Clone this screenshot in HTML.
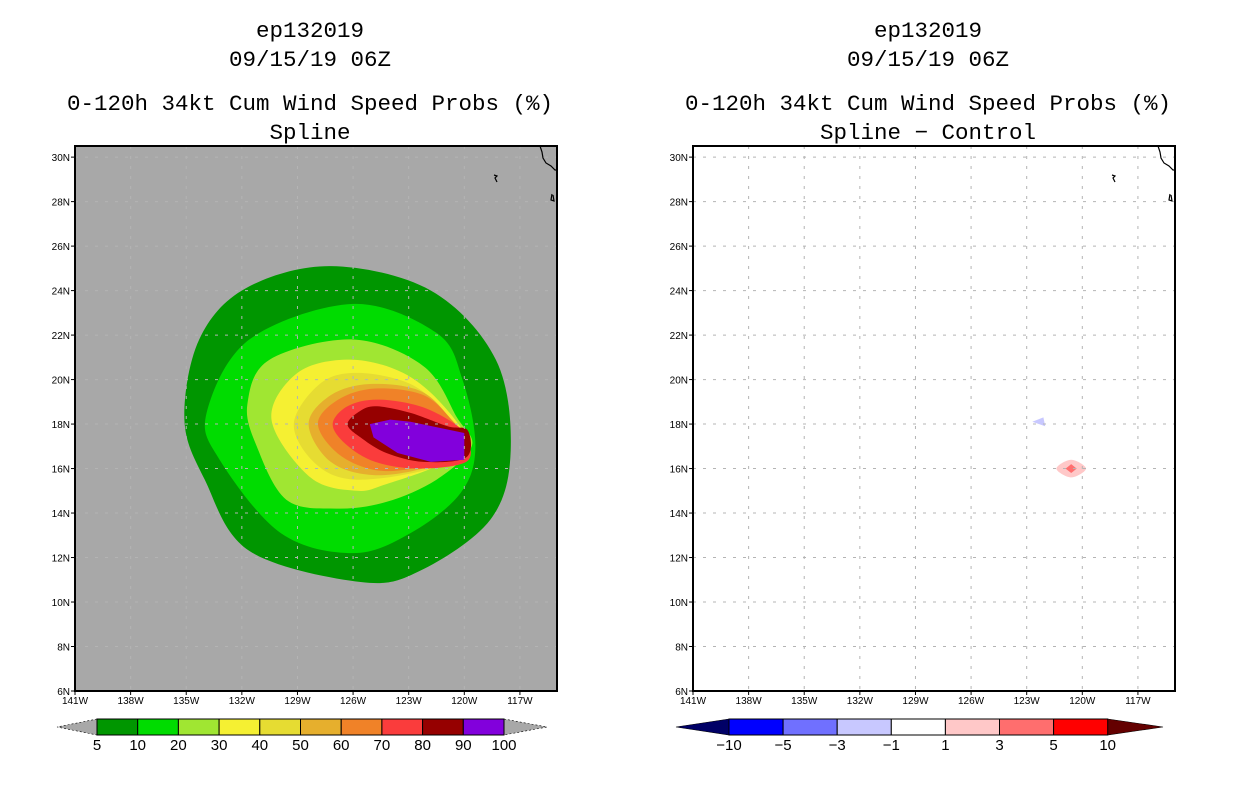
<!DOCTYPE html>
<html><head><meta charset="utf-8">
<style>
html,body{margin:0;padding:0;background:#fff;}
svg{display:block;}
.t{font-family:"Liberation Mono","DejaVu Sans Mono",monospace;font-size:22.5px;fill:#000;text-anchor:middle;}
.tk{font-family:"Liberation Sans",sans-serif;font-size:10px;fill:#000;}
.cb{font-family:"Liberation Sans",sans-serif;font-size:15px;fill:#000;text-anchor:middle;}
</style></head>
<body>
<svg id="chart" width="1236" height="800" viewBox="0 0 1236 800" xmlns="http://www.w3.org/2000/svg">
<rect width="1236" height="800" fill="#fff"/>
<g>
<text class="t" x="310" y="37">ep132019</text>
<text class="t" x="310" y="66">09/15/19 06Z</text>
<text class="t" x="310" y="110">0-120h 34kt Cum Wind Speed Probs (%)</text>
<text class="t" x="310" y="139">Spline</text>
</g>
<g>
<text class="t" x="928" y="37">ep132019</text>
<text class="t" x="928" y="66">09/15/19 06Z</text>
<text class="t" x="928" y="110">0-120h 34kt Cum Wind Speed Probs (%)</text>
<text class="t" x="928" y="139">Spline − Control</text>
</g>
</svg>
<script>
// ---- data ----
const lonTicks = [-141,-138,-135,-132,-129,-126,-123,-120,-117];
const latTicks = [6,8,10,12,14,16,18,20,22,24,26,28,30];
const probLevels = [5,10,20,30,40,50,60,70,80,90,100];
const probColors = ["#009600","#00dc00","#a0e632","#f5f032","#e6dc32","#e6af2d","#f08228","#fa3c3c","#960000","#8200dc"];
const diffLevels = [-10,-5,-3,-1,1,3,5,10];
const diffColors = ["#000066","#0000ff","#7070ff","#c8c8ff","#ffffff","#ffc8c8","#ff6e6e","#ff0000","#640000"];
const c5 = [[-135.1,18.2],[-134.3,21.8],[-131.8,24.1],[-127.2,25.1],[-121.8,24.0],[-118.3,20.9],[-117.5,16.8],[-118.6,13.7],[-122.4,11.4],[-125.6,10.9],[-131.6,12.3],[-134.0,15.5]];
const c10 = [[-133.9,18.5],[-131.6,21.8],[-126.0,23.4],[-121.5,22.1],[-120.1,20.0],[-119.4,17.0],[-120.2,14.9],[-122.9,13.1],[-126.0,12.2],[-129.9,13.1],[-133.2,16.4]];
const c20 = [[-131.7,18.9],[-130.5,20.9],[-126.0,21.8],[-122.2,20.6],[-120.4,18.3],[-119.6,17.0],[-121.5,15.5],[-124.2,14.5],[-126.9,14.2],[-129.6,14.6],[-131.2,17.0]];
const c30 = [[-130.4,18.2],[-129.0,20.3],[-126.2,20.9],[-123.3,20.3],[-121.1,18.8],[-119.8,17.0],[-121.5,16.1],[-124.2,15.3],[-125.8,15.0],[-128.3,15.6]];
const c40 = [[-129.2,18.0],[-127.8,19.8],[-125.8,20.3],[-122.9,19.8],[-120.9,18.4],[-119.8,17.0],[-121.8,16.0],[-125.8,15.5],[-128.0,16.2]];
const c50 = [[-128.4,18.0],[-127.2,19.3],[-125.1,19.8],[-122.4,19.5],[-120.8,18.3],[-119.8,17.0],[-121.8,16.1],[-124.8,15.7],[-127.2,16.3]];
const c60 = [[-127.9,18.0],[-126.8,19.1],[-124.8,19.6],[-122.2,19.3],[-120.6,18.1],[-119.8,17.0],[-121.8,16.2],[-124.5,15.9],[-126.7,16.6]];
const c70 = [[-127.1,18.0],[-126.3,18.8],[-124.7,19.1],[-122.4,18.8],[-120.5,18.0],[-119.8,17.3],[-119.9,16.3],[-122.4,16.0],[-124.8,16.3],[-126.4,17.1]];
const c80 = [[-126.3,18.0],[-125.6,18.6],[-124.7,18.8],[-122.9,18.5],[-120.9,17.9],[-119.8,17.7],[-119.9,16.5],[-122.2,16.3],[-124.2,16.7],[-125.6,17.4]];
const c90 = [[-125.1,18.0],[-124.0,18.2],[-122.9,18.1],[-120.0,17.6],[-120.0,16.4],[-121.8,16.3],[-123.6,16.7],[-124.9,17.4]];
const diffNeg = [[-122.7,18.1],[-122.1,18.3],[-122.0,17.9]];
const diffPos1 = [[-121.4,16.0],[-120.6,16.4],[-119.8,16.0],[-120.6,15.6]];
const diffPos3 = [[-120.9,16.0],[-120.6,16.2],[-120.3,16.0],[-120.6,15.8]];
// ---- scales ----
const LON0=-141, LON1=-115.0, LAT0=6, LAT1=30.5;
const panels=[{x0:75,x1:557,y0:146,y1:691,fill:"#a8a8a8",name:"left"},{x0:693,x1:1175,y0:146,y1:691,fill:"#ffffff",name:"right"}];
function xs(p,lon){return p.x0+(lon-LON0)*(p.x1-p.x0)/(LON1-LON0);}
function ys(p,lat){return p.y1-(lat-LAT0)*(p.y1-p.y0)/(LAT1-LAT0);}
const NS="http://www.w3.org/2000/svg";
const svg=document.getElementById("chart");
function el(tag,attrs,parent){const e=document.createElementNS(NS,tag);for(const k in attrs)e.setAttribute(k,attrs[k]);(parent||svg).appendChild(e);return e;}
function smooth(p,pts){
  const P=pts.map(q=>[xs(p,q[0]),ys(p,q[1])]);const n=P.length;let d="M"+P[0][0].toFixed(1)+","+P[0][1].toFixed(1);
  for(let i=0;i<n;i++){const a=P[(i-1+n)%n],b=P[i],c=P[(i+1)%n],e=P[(i+2)%n];
    d+=" C"+(b[0]+(c[0]-a[0])/6).toFixed(1)+","+(b[1]+(c[1]-a[1])/6).toFixed(1)+" "+(c[0]-(e[0]-b[0])/6).toFixed(1)+","+(c[1]-(e[1]-b[1])/6).toFixed(1)+" "+c[0].toFixed(1)+","+c[1].toFixed(1);}
  return d+"Z";}
function poly(p,pts){return "M"+pts.map(q=>xs(p,q[0]).toFixed(1)+","+ys(p,q[1]).toFixed(1)).join(" L")+"Z";}

panels.forEach((p,pi)=>{
  const g=el("g",{});
  
  
  const bg=el("rect",{x:p.x0,y:p.y0,width:p.x1-p.x0,height:p.y1-p.y0,fill:p.fill},g);
  
  
  if(pi===0){
    const conts=[c5,c10,c20,c30,c40,c50,c60,c70,c80];
    conts.forEach((c,i)=>{
      const path=el("path",{d:smooth(p,c),fill:probColors[i]},g);
      
      
    });
    const pur=el("path",{d:poly(p,c90),fill:probColors[9]},g);
    
    
  } else {
    const n=el("path",{d:poly(p,diffNeg),fill:diffColors[3]},g);
    
    
    const a=el("path",{d:smooth(p,diffPos1),fill:diffColors[5]},g);
    
    
    const b=el("path",{d:poly(p,diffPos3),fill:diffColors[6]},g);
    
    
  }
  lonTicks.forEach(l=>{if(l>LON0){const x=xs(p,l);const gl=el("line",{x1:x,x2:x,y1:p.y0,y2:p.y1,stroke:"#b4b4b4","stroke-width":1,"stroke-dasharray":"3,7"},g);
    
    }});
  latTicks.forEach(l=>{if(l>LAT0){const y=ys(p,l);const gl=el("line",{x1:p.x0,x2:p.x1,y1:y,y2:y,stroke:"#b4b4b4","stroke-width":1,"stroke-dasharray":"3,7"},g);
    
    }});
  const o=p.x0-75;
  const cst=el("path",{d:`M${540+o},146 L${542+o},152 L${543+o},158 L${546+o},163 L${551+o},166 L${555+o},170 L${557+o},170 M${494+o},175 L${497+o},176 L${495+o},178 L${497+o},182 M${552+o},194 L${551+o},200 L${554+o},201 L${553+o},195`,fill:"none",stroke:"#000","stroke-width":1.2},g);
  
  
  const fr=el("rect",{x:p.x0,y:p.y0,width:p.x1-p.x0,height:p.y1-p.y0,fill:"none",stroke:"#000","stroke-width":2},g);
  
  
  lonTicks.forEach(l=>{const x=xs(p,l);
    el("line",{x1:x,x2:x,y1:p.y1,y2:p.y1+4,stroke:"#000"},g);
    const t=el("text",{x:x,y:p.y1+13,class:"tk","text-anchor":"middle"},g);t.textContent=Math.abs(l)+"W";
    
    });
  latTicks.forEach(l=>{const y=ys(p,l);
    el("line",{x1:p.x0-4,x2:p.x0,y1:y,y2:y,stroke:"#000"},g);
    const t=el("text",{x:p.x0-5,y:y+4,class:"tk","text-anchor":"end"},g);t.textContent=l+"N";
    
    });
});

function colorbar(edges,colors,labels,tipL,tipR,y0,y1,name,endFill){
  const g=el("g",{});
  
  
  const ym=(y0+y1)/2;
  const lt=el("path",{d:`M${edges[0]},${y0} L${tipL},${ym} L${edges[0]},${y1}Z`,fill:endFill[0],stroke:"#000","stroke-width":0.6,"stroke-dasharray":endFill[2]},g);
  
  
  const last=edges[edges.length-1];
  const rt=el("path",{d:`M${last},${y0} L${tipR},${ym} L${last},${y1}Z`,fill:endFill[1],stroke:"#000","stroke-width":0.6,"stroke-dasharray":endFill[2]},g);
  
  
  for(let i=0;i<edges.length-1;i++){
    const r=el("rect",{x:edges[i],y:y0,width:edges[i+1]-edges[i],height:y1-y0,fill:colors[i],stroke:"#000","stroke-width":1},g);
    
    
  }
  edges.forEach((x,i)=>{const t=el("text",{x:x,y:y1+15,class:"cb"},g);t.textContent=String(labels[i]).replace("-","−");
    
    });
}
const probEdges=probLevels.map((v,i)=>97+i*40.7);
colorbar(probEdges,probColors,probLevels,57,547,719,735,"probability-colorbar",["#a8a8a8","#a8a8a8","2,2"]);
const diffEdges=diffLevels.map((v,i)=>729+i*54.1);
colorbar(diffEdges,diffColors.slice(1,8),diffLevels,676,1163,719,735,"difference-colorbar",[diffColors[0],diffColors[8],"none"]);
</script>
</body></html>
